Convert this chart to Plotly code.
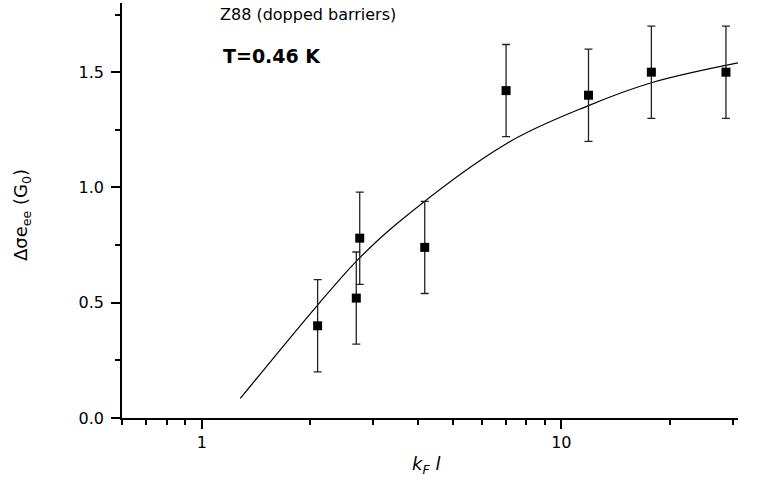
import plotly.graph_objects as go
import math

# Measured data
kfl = [2.10, 2.69, 2.75, 4.17, 7.02, 11.9, 17.8, 28.7]
dsigma = [0.40, 0.52, 0.78, 0.74, 1.42, 1.40, 1.50, 1.50]
dsigma_err = [0.20, 0.20, 0.20, 0.20, 0.20, 0.20, 0.20, 0.20]

# Theory curve
curve_x = [1.28, 2.10, 2.71, 3.50, 7.07, 11.9, 17.9, 31.0]
curve_y = [0.085, 0.49, 0.685, 0.845, 1.192, 1.355, 1.455, 1.54]

x_major = [1, 10]
x_major_text = ["1", "10"]
x_minor = [0.6, 0.7, 0.8, 0.9, 2, 3, 4, 5, 6, 7, 8, 9, 20, 30]
y_major = [0.0, 0.5, 1.0, 1.5]
y_major_text = ["0.0", "0.5", "1.0", "1.5"]
y_minor = [0.25, 0.75, 1.25, 1.75]

FONT = "DejaVu Sans"

fig = go.Figure()
fig.add_trace(go.Scatter(
    x=curve_x, y=curve_y, mode="lines",
    line=dict(color="black", width=1.2, shape="spline", smoothing=1.0),
    showlegend=False, hoverinfo="skip"))
fig.add_trace(go.Scatter(
    x=kfl, y=dsigma, mode="markers",
    marker=dict(symbol="square", size=9, color="black"),
    error_y=dict(type="data", array=dsigma_err, visible=True,
                 color="#222222", thickness=1.3, width=4),
    showlegend=False))

fig.update_layout(
    width=765, height=479, autosize=False,
    margin=dict(l=122, r=27, t=3, b=61),
    paper_bgcolor="white", plot_bgcolor="white",
    font=dict(family=FONT, size=16, color="black"),
    xaxis=dict(
        type="log", range=[math.log10(0.6), math.log10(31.0)],
        showline=True, linecolor="black", linewidth=1.5,
        showgrid=False, zeroline=False, mirror=False,
        ticks="outside", ticklen=9, tickwidth=1.5, tickcolor="black",
        tickmode="array", tickvals=x_major, ticktext=x_major_text,
        tickfont=dict(family=FONT, size=16),
        minor=dict(tickmode="array", tickvals=x_minor, ticks="outside",
                   ticklen=5, tickwidth=1.5, tickcolor="black", showgrid=False),
    ),
    yaxis=dict(
        range=[0, 1.8],
        showline=True, linecolor="black", linewidth=1.5,
        showgrid=False, zeroline=False, mirror=False,
        ticks="outside", ticklen=9, tickwidth=1.5, tickcolor="black",
        tickmode="array", tickvals=y_major, ticktext=y_major_text,
        tickfont=dict(family=FONT, size=16),
        ticklabelstandoff=4,
        minor=dict(tickmode="array", tickvals=y_minor, ticks="outside",
                   ticklen=5, tickwidth=1.5, tickcolor="black", showgrid=False),
    ),
    annotations=[
        dict(text="Z88 (dopped barriers)", xref="paper", yref="paper",
             x=0.156, y=0.973, xanchor="left", yanchor="middle",
             showarrow=False, font=dict(family=FONT, size=16)),
        dict(text="<b>T=0.46 K</b>", xref="paper", yref="paper",
             x=0.160, y=0.872, xanchor="left", yanchor="middle",
             showarrow=False, font=dict(family=FONT, size=19)),
        dict(text="Δσe<sub>ee</sub> (G<sub>0</sub>)", xref="paper", yref="paper",
             x=(22 - 122) / 616, y=0.489, xanchor="center", yanchor="middle",
             textangle=-90, showarrow=False, font=dict(family=FONT, size=18)),
        dict(text="<i>k<sub>F</sub> l</i>", xref="paper", yref="paper",
             x=0.4935, y=-0.113, xanchor="center", yanchor="middle",
             showarrow=False, font=dict(family=FONT, size=18)),
    ],
)

fig.write_html("out.html")
